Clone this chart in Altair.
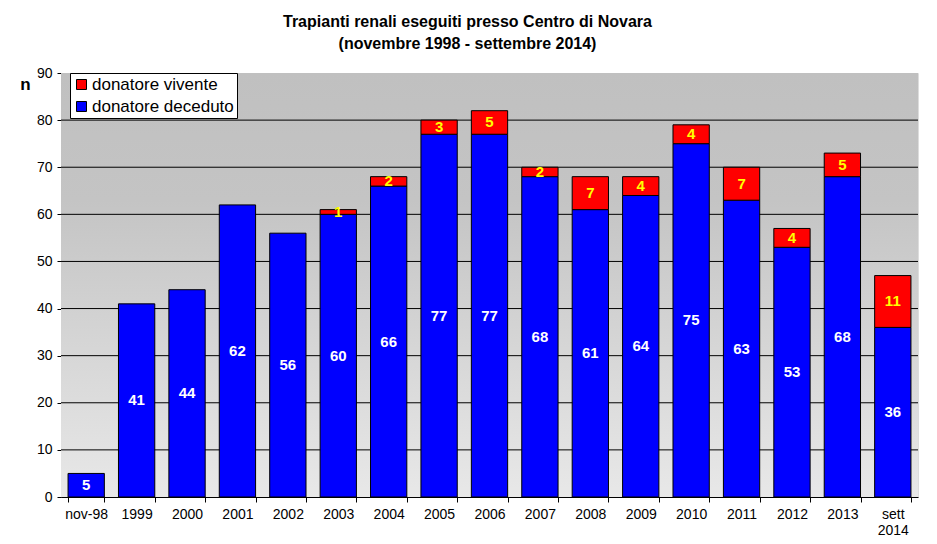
import altair as alt
import pandas as pd

categories = ["nov-98", "1999", "2000", "2001", "2002", "2003", "2004", "2005",
              "2006", "2007", "2008", "2009", "2010", "2011", "2012", "2013", "sett 2014"]
deceduto = [5, 41, 44, 62, 56, 60, 66, 77, 77, 68, 61, 64, 75, 63, 53, 68, 36]
vivente = [0, 0, 0, 0, 0, 1, 2, 3, 5, 2, 7, 4, 4, 7, 4, 5, 11]
series_names = ["donatore vivente", "donatore deceduto"]
series_colors = ["#ff0000", "#0000ff"]
y_ticks = list(range(0, 100, 10))
grid_values = list(range(10, 90, 10))

rows = []
for c, d, v in zip(categories, deceduto, vivente):
    rows.append(dict(cat=c, serie="donatore deceduto", start=0, end=d, value=d, mid=d / 2))
    if v > 0:
        rows.append(dict(cat=c, serie="donatore vivente", start=d, end=d + v, value=v, mid=d + v / 2))
df = pd.DataFrame(rows)
grid_df = pd.DataFrame({"g": grid_values})

W, H = 857, 424
FONT = "Liberation Sans"

xscale = alt.Scale(domain=categories, paddingInner=0.28, paddingOuter=0.14)
yscale = alt.Scale(domain=[0, 90], nice=False)

x_axis = alt.Axis(title=None, labelAngle=0, tickBand="extent", labelFontSize=14,
                  labelColor="black", labelFont=FONT, tickColor="black", domainColor="black",
                  tickSize=5, labelPadding=5, labelLineHeight=16,
                  labelExpr="datum.label == 'sett 2014' ? ['sett', '2014'] : datum.label")
y_axis = alt.Axis(values=y_ticks, grid=False, title="n", titleAngle=0, titleX=-36, titleY=11,
                  titleAlign="center", titleBaseline="middle", titleFontSize=17,
                  titleFont=FONT, titleFontWeight="bold", titleColor="black",
                  labelFontSize=14, labelFont=FONT, labelColor="black", tickColor="black",
                  domainColor="black", tickSize=4, labelPadding=5)

grad = alt.LinearGradient(gradient="linear",
                          stops=[alt.GradientStop(color="#c0c0c0", offset=0),
                                 alt.GradientStop(color="#c4c4c4", offset=0.3),
                                 alt.GradientStop(color="#e8e8e8", offset=1)],
                          x1=0, x2=0, y1=0, y2=1)

background = alt.Chart(alt.Data(values=[{}])).mark_rect(color=grad).encode(
    x=alt.value(0), x2=alt.value(W), y=alt.datum(90, scale=yscale), y2=alt.datum(0)
)

grid = alt.Chart(grid_df).mark_rule(color="black", strokeWidth=1).encode(
    y=alt.Y("g:Q", scale=yscale, axis=y_axis)
)

bars = alt.Chart(df).mark_bar(stroke="black", strokeWidth=1).encode(
    x=alt.X("cat:N", scale=xscale, axis=x_axis, sort=categories),
    y=alt.Y("start:Q", scale=yscale, axis=y_axis),
    y2="end:Q",
    color=alt.Color("serie:N", scale=alt.Scale(domain=series_names, range=series_colors),
                    legend=alt.Legend(title=None, orient="none", legendX=9, legendY=0,
                                      fillColor="white", strokeColor="black", padding=3,
                                      symbolType="square", symbolSize=100,
                                      symbolStrokeColor="black", symbolStrokeWidth=1,
                                      symbolOpacity=1,
                                      labelFontSize=17, labelFont=FONT, labelColor="black",
                                      labelOffset=2, rowPadding=4, cornerRadius=0)),
)

labels = alt.Chart(df).mark_text(font=FONT, fontSize=15, fontWeight="bold",
                                 baseline="middle", align="center").encode(
    x=alt.X("cat:N", scale=xscale, sort=categories),
    y=alt.Y("mid:Q", scale=yscale),
    text=alt.Text("value:Q"),
    color=alt.condition(alt.datum.serie == "donatore vivente",
                        alt.value("#ffff00"), alt.value("white")),
)

chart = alt.layer(background, grid, bars, labels).properties(
    width=W, height=H,
    autosize=alt.AutoSizeParams(type="none"),
    padding={"left": 53, "top": 65, "right": 10, "bottom": 39},
    title=alt.TitleParams(
        text=["Trapianti renali eseguiti presso Centro di Novara",
              "(novembre 1998 - settembre 2014)"],
        font=FONT, fontSize=16, fontWeight="bold", color="black",
        anchor="middle", dx=-22, offset=14, lineHeight=22,
    ),
).configure_view(stroke="#808080", strokeWidth=1).configure(background="white")

chart.save("out.html", embed_options={"renderer": "svg", "actions": False})
